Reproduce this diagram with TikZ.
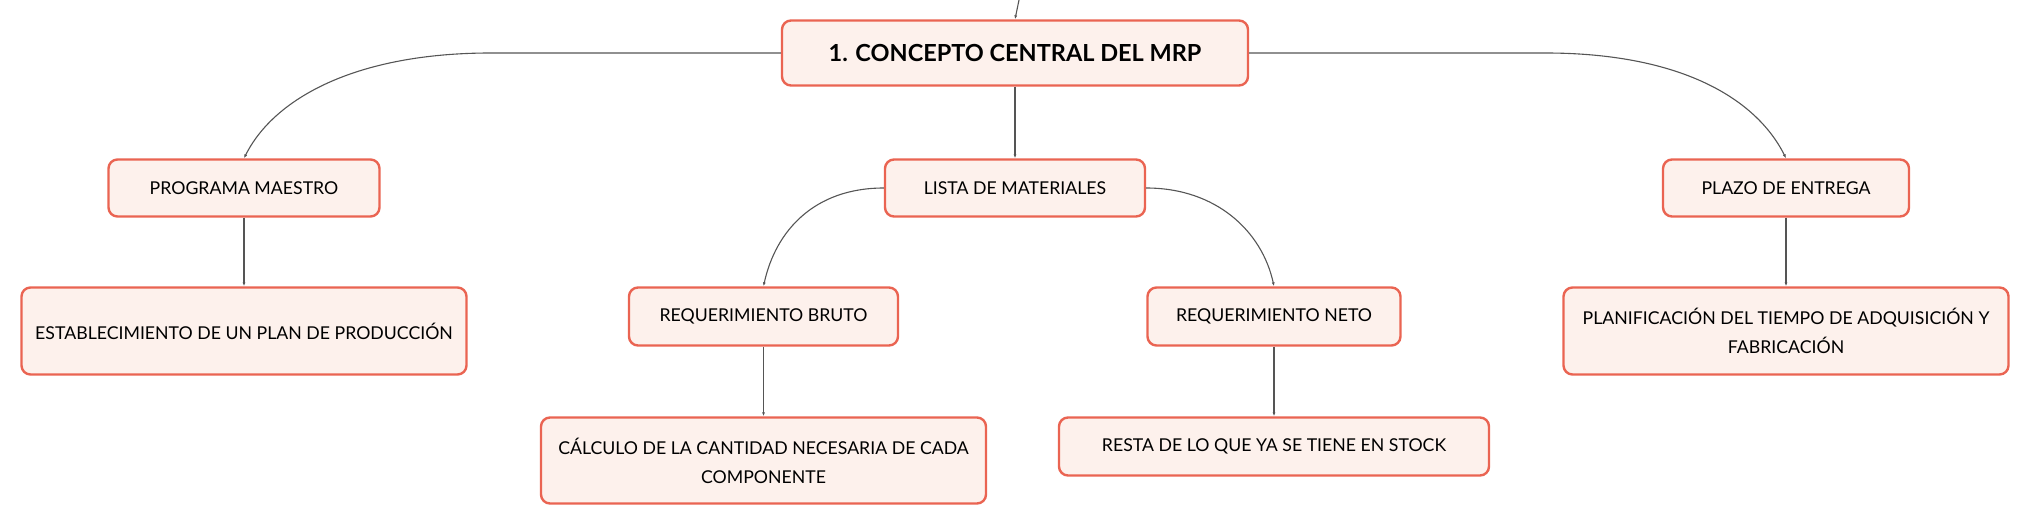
\documentclass[tikz,border=0pt]{standalone}
\usepackage{fontspec}
\setmainfont{Lato}
\usetikzlibrary{arrows.meta}
\definecolor{mrpred}{HTML}{EA6452}
\definecolor{mrpfill}{HTML}{FDF1EC}
\definecolor{mrpline}{HTML}{555555}
\tikzset{
  box/.style={draw=mrpred, fill=mrpfill, line width=2.4pt, rounded corners=9pt,
    inner sep=0pt, align=center, font=\fontsize{17.7}{29}\selectfont},
  conn/.style={draw=mrpline, line width=1.1pt, -{Latex[length=4pt,width=3pt]}}
}
\begin{document}
\begin{tikzpicture}[x=1pt, y=-1pt]
        \useasboundingbox (0,0) rectangle (2031,526);
        \coordinate (p0) at (1019,0);
        \coordinate (p1) at (1015,53);
        \coordinate (p2) at (244,188);
        \coordinate (p3) at (1015,188);
        \coordinate (p4) at (1786,188);
        \coordinate (p5) at (244,331);
        \coordinate (p6) at (763.5,316.5);
        \coordinate (p7) at (1274,316.5);
        \coordinate (p8) at (1786,331);
        \coordinate (p9) at (763.5,460.5);
        \coordinate (p10) at (1274,446.5);
        \node[box, minimum width=466, minimum height=65, font=\fontsize{23.5}{29}\selectfont\bfseries] (concepto) at (p1) {1. CONCEPTO CENTRAL DEL MRP};
        \node[box, minimum width=271, minimum height=57] (programa) at (p2) {PROGRAMA MAESTRO};
        \node[box, minimum width=260, minimum height=57] (lista) at (p3) {LISTA DE MATERIALES};
        \node[box, minimum width=246, minimum height=57] (plazo) at (p4) {PLAZO DE ENTREGA};
        \node[box, minimum width=445, minimum height=87] (plan) at (p5) {ESTABLECIMIENTO DE UN PLAN DE PRODUCCIÓN};
        \node[box, minimum width=269, minimum height=58] (bruto) at (p6) {REQUERIMIENTO BRUTO};
        \node[box, minimum width=253, minimum height=58] (neto) at (p7) {REQUERIMIENTO NETO};
        \node[box, minimum width=445, minimum height=87] (tiempo) at (p8) {PLANIFICACIÓN DEL TIEMPO DE ADQUISICIÓN Y\\FABRICACIÓN};
        \node[box, minimum width=445, minimum height=86] (calculo) at (p9) {CÁLCULO DE LA CANTIDAD NECESARIA DE CADA\\COMPONENTE};
        \node[box, minimum width=430, minimum height=58] (resta) at (p10) {RESTA DE LO QUE YA SE TIENE EN STOCK};
        \draw[conn] (p0) -- (concepto.north);
        \draw[conn] (concepto.west) -- ++(-290,0) .. controls +(-135,0) and +(30,-60) .. (programa.north);
        \draw[conn] (concepto.east) -- ++(296,0) .. controls +(135,0) and +(-30,-60) .. (plazo.north);
        \draw[conn] (concepto.south) -- (lista.north);
        \draw[conn] (lista.west) .. controls +(-70,0) and +(12,-55) .. (bruto.north);
        \draw[conn] (lista.east) .. controls +(70,0) and +(-12,-55) .. (neto.north);
        \draw[conn] (programa.south) -- (plan.north);
        \draw[conn] (bruto.south) -- (calculo.north);
        \draw[conn] (neto.south) -- (resta.north);
        \draw[conn] (plazo.south) -- (tiempo.north);
\end{tikzpicture}
\end{document}
